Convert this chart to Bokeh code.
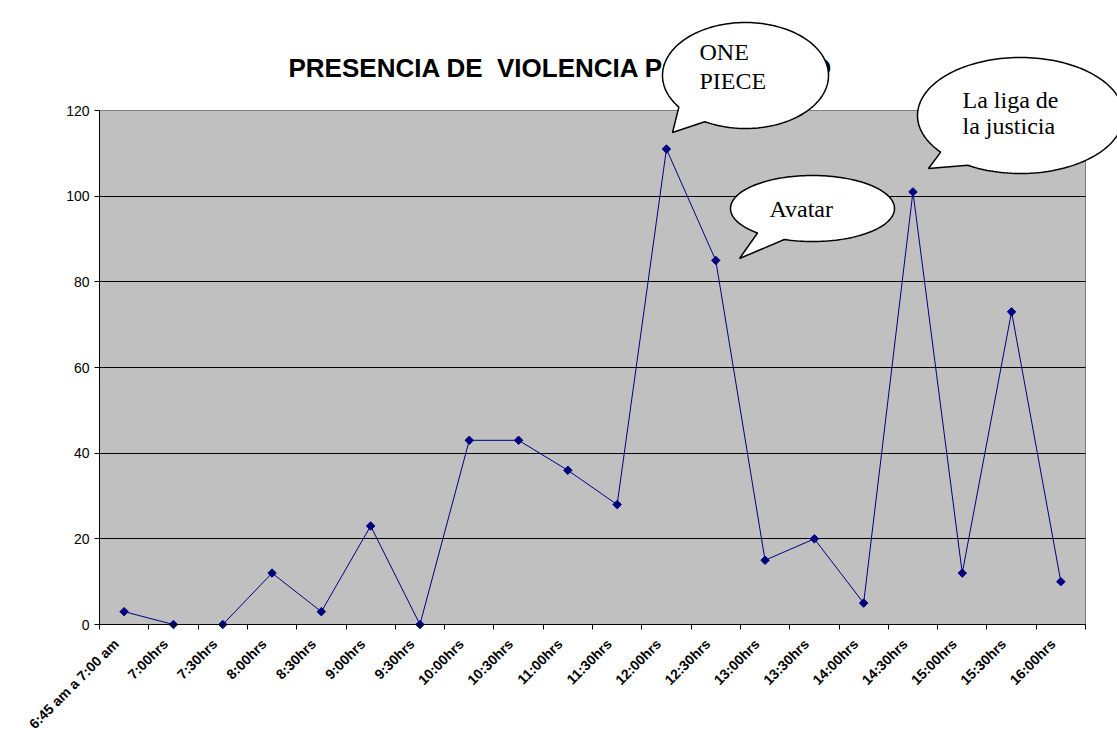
import math
from bokeh.plotting import figure
from bokeh.models import Range1d, FixedTicker, Label, PolyAnnotation
from bokeh.core.properties import value
from bokeh.embed import file_html
from bokeh.resources import INLINE

categories = ["6:45 am a 7:00 am", "7:00hrs", "7:30hrs", "8:00hrs", "8:30hrs",
              "9:00hrs", "9:30hrs", "10:00hrs", "10:30hrs", "11:00hrs", "11:30hrs",
              "12:00hrs", "12:30hrs", "13:00hrs", "13:30hrs", "14:00hrs", "14:30hrs",
              "15:00hrs", "15:30hrs", "16:00hrs"]
values = [3, 0, 0, 12, 3, 23, 0, 43, 43, 36, 28, 111, 85, 15, 20, 5, 101, 12, 73, 10]
y_ticks = [0, 20, 40, 60, 80, 100, 120]
title_text = "PRESENCIA DE\u00a0\u00a0VIOLENCIA POR HORARIO"
callouts = [["ONE", "PIECE"], ["Avatar"], ["La liga de", "la justicia"]]

# canvas layout (pixels)
W, H = 1117, 735
L, R, T, B = 99, 1085, 110, 624

n = len(categories)
ymax = y_ticks[-1]
xs = [i + 0.5 for i in range(n)]

px = (R - L) / n
py = (B - T) / ymax
x_range = Range1d(-L / px, (W - L) / px)
y_range = Range1d(-(H - B) / py, ymax + T / py)


def dx(pix):
    return (pix - L) / px


def dy(pix):
    return (B - pix) / py


p = figure(width=W, height=H, output_backend="svg", toolbar_location=None,
           x_range=x_range, y_range=y_range,
           min_border=0, min_border_left=0, min_border_right=0,
           min_border_top=0, min_border_bottom=0)
p.background_fill_color = "white"
p.border_fill_color = "white"
p.outline_line_color = None

# plot area background
p.quad(left=0, right=n, bottom=0, top=ymax, fill_color="#C0C0C0",
       line_color="#808080", line_width=1, level="image")

# grid
p.xgrid.visible = False
inner = y_ticks[1:-1]
yg = p.ygrid[0]
if "cross_bounds" in yg.properties():
    yg.ticker = FixedTicker(ticks=inner)
    yg.cross_bounds = (0, n)
    yg.grid_line_color = "black"
    yg.grid_line_width = 1
else:
    yg.visible = False
    p.segment(x0=[0] * len(inner), x1=[n] * len(inner), y0=inner, y1=inner,
              line_color="black", line_width=1, level="underlay")

# x axis (tick marks at category boundaries, labels drawn below)
xa = p.xaxis[0]
xa.fixed_location = 0
xa.bounds = (0, n)
xa.ticker = FixedTicker(ticks=[], minor_ticks=list(range(n + 1)))
xa.major_tick_out = 0
xa.major_tick_in = 0
xa.minor_tick_out = 5
xa.minor_tick_in = 0
xa.minor_tick_line_color = "black"
xa.axis_line_color = "black"

p.text(x=xs, y=[0] * n, text=categories, angle=math.pi / 4,
       text_align="right", text_baseline="middle",
       x_offset=-8, y_offset=17,
       text_font=value("Liberation Sans"), text_font_style="bold",
       text_font_size="14px", text_color="black")

# y axis
ya = p.yaxis[0]
ya.fixed_location = 0
ya.bounds = (0, ymax)
ya.ticker = FixedTicker(ticks=y_ticks)
ya.major_tick_out = 5
ya.major_tick_in = 0
ya.minor_tick_out = 0
ya.minor_tick_in = 0
ya.major_tick_line_color = "black"
ya.axis_line_color = "black"
ya.major_label_text_font = "Liberation Sans"
ya.major_label_text_font_size = "14px"
ya.major_label_text_color = "black"
ya.major_label_standoff = 5

# data
p.line(xs, values, line_color="#000080", line_width=1)
p.scatter(xs, values, marker="square", angle=math.pi / 4, size=6, color="#000080")

# baseline correction (pixels) for text labels
bc = 8

# title
p.add_layout(Label(x=dx(288), y=dy(75 - bc), text=title_text,
                   text_font="Liberation Sans", text_font_style="bold",
                   text_font_size="26px", text_color="black",
                   text_align="left", text_baseline="alphabetic"))


def bubble(cx, cy, rx, ry, a1, a2, tip):
    bx, by = [], []
    a = a2
    while a <= a1 + 360:
        r = math.radians(a)
        bx.append(dx(cx + rx * math.cos(r)))
        by.append(dy(cy - ry * math.sin(r)))
        a += 2
    bx.append(dx(tip[0]))
    by.append(dy(tip[1]))
    return bx, by


# bubbles in pixel geometry: centre, radii, tail base angles (deg, y up), tail tip
bubbles = [
    (745, 75, 83, 53, 218.4, 240.6, (672, 132)),
    (812, 208, 82, 33, 229.6, 249.9, (739, 258)),
    (1020, 115, 103, 58, 220.6, 239.2, (928, 168)),
]
text_pos = [
    [(699, 59), (699, 88)],
    [(769, 216)],
    [(962, 107), (962, 133)],
]
for b, lines, pos in zip(bubbles, callouts, text_pos):
    bx, by = bubble(*b)
    p.add_layout(PolyAnnotation(xs=bx, ys=by, fill_color="white", fill_alpha=1.0,
                                line_color="black", line_alpha=1.0, line_width=1.5))
    for t, (tx, ty) in zip(lines, pos):
        p.add_layout(Label(x=dx(tx), y=dy(ty - bc), text=t, text_font="Liberation Serif",
                           text_font_size="24px", text_color="black",
                           text_align="left", text_baseline="alphabetic"))

open("out.html", "w").write(file_html(p, INLINE))
